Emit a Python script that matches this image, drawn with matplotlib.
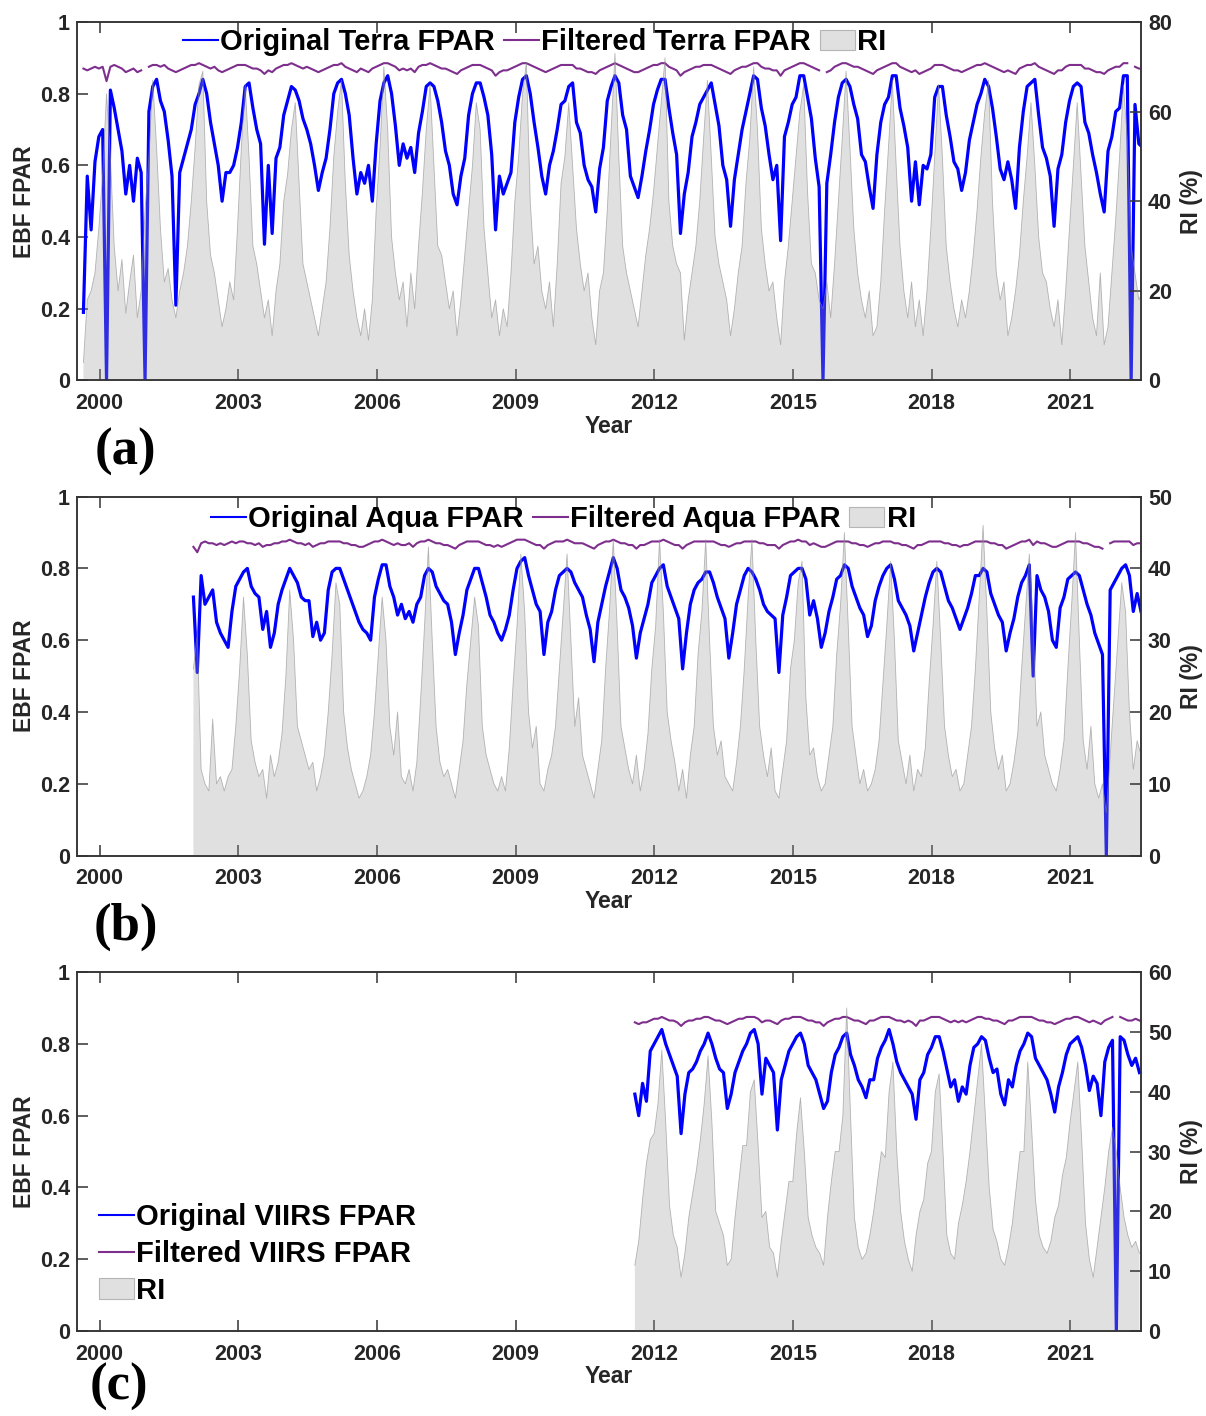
import numpy as np
import matplotlib
matplotlib.use('Agg')
import matplotlib.pyplot as plt
from matplotlib.patches import Patch
from matplotlib.lines import Line2D
from matplotlib.ticker import FuncFormatter

plt.rcParams['font.family'] = ['Liberation Sans', 'DejaVu Sans']
plt.rcParams['font.weight'] = 'bold'

nan = np.nan

# ---------------- data (monthly values) ----------------
x_ticks = [2000, 2003, 2006, 2009, 2012, 2015, 2018, 2021]

# Terra, first value at 1999.65, one value per month
terra_start = 1999.65
terra_fpar = [
    0.19, 0.57, 0.42, 0.61, 0.68,
    0.70, 0.00, 0.81, 0.76, 0.70, 0.64, 0.52, 0.60, 0.50, 0.62, 0.58, 0.00,
    0.75, 0.82, 0.84, 0.78, 0.75, 0.67, 0.57, 0.21, 0.58, 0.62, 0.66, 0.70,
    0.77, 0.80, 0.84, 0.80, 0.72, 0.66, 0.60, 0.50, 0.58, 0.58, 0.60, 0.65,
    0.72, 0.82, 0.83, 0.76, 0.70, 0.66, 0.38, 0.60, 0.41, 0.62, 0.65, 0.74,
    0.78, 0.82, 0.81, 0.78, 0.73, 0.70, 0.66, 0.60, 0.53, 0.58, 0.62, 0.70,
    0.80, 0.83, 0.84, 0.80, 0.74, 0.62, 0.52, 0.58, 0.55, 0.60, 0.50, 0.66,
    0.78, 0.83, 0.85, 0.80, 0.71, 0.60, 0.66, 0.62, 0.65, 0.58, 0.69, 0.75,
    0.82, 0.83, 0.82, 0.78, 0.72, 0.64, 0.60, 0.52, 0.49, 0.57, 0.62, 0.74,
    0.80, 0.83, 0.83, 0.79, 0.74, 0.63, 0.42, 0.57, 0.52, 0.55, 0.58, 0.72,
    0.79, 0.84, 0.85, 0.80, 0.72, 0.65, 0.57, 0.52, 0.60, 0.64, 0.70, 0.77,
    0.78, 0.82, 0.83, 0.72, 0.69, 0.60, 0.56, 0.54, 0.47, 0.59, 0.65, 0.78,
    0.82, 0.85, 0.83, 0.74, 0.70, 0.57, 0.54, 0.51, 0.57, 0.64, 0.70, 0.77,
    0.81, 0.84, 0.84, 0.76, 0.69, 0.63, 0.41, 0.52, 0.58, 0.68, 0.72, 0.77,
    0.79, 0.81, 0.83, 0.77, 0.71, 0.60, 0.56, 0.43, 0.56, 0.63, 0.70, 0.75,
    0.80, 0.85, 0.84, 0.76, 0.71, 0.63, 0.56, 0.60, 0.39, 0.68, 0.72, 0.77,
    0.79, 0.85, 0.85, 0.79, 0.73, 0.62, 0.54, 0.00, 0.55, 0.63, 0.72, 0.79,
    0.83, 0.84, 0.82, 0.77, 0.73, 0.63, 0.61, 0.54, 0.48, 0.63, 0.72, 0.77,
    0.79, 0.85, 0.85, 0.76, 0.71, 0.65, 0.50, 0.61, 0.49, 0.60, 0.59, 0.63,
    0.79, 0.82, 0.82, 0.74, 0.68, 0.61, 0.59, 0.53, 0.58, 0.67, 0.72, 0.77,
    0.80, 0.84, 0.82, 0.76, 0.68, 0.59, 0.56, 0.61, 0.56, 0.48, 0.65, 0.75,
    0.82, 0.83, 0.84, 0.74, 0.65, 0.62, 0.57, 0.43, 0.59, 0.63, 0.72, 0.78,
    0.82, 0.83, 0.82, 0.72, 0.69, 0.63, 0.58, 0.52, 0.47, 0.64, 0.68, 0.75,
    0.76, 0.85, 0.85, 0.00, 0.77, 0.66, 0.65,
]
terra_filt = [
    0.870, 0.865, 0.870, 0.875, 0.870,
    0.875, 0.835, 0.875, 0.880, 0.875, 0.870, 0.860, 0.865, 0.870, 0.860, 0.865, nan,
    0.875, 0.880, 0.880, 0.875, 0.880, 0.870, 0.865, 0.860, 0.865, 0.870, 0.875, 0.880,
    0.880, 0.885, 0.880, 0.875, 0.870, 0.875, 0.865, 0.860, 0.865, 0.870, 0.875, 0.880,
    0.880, 0.880, 0.875, 0.870, 0.870, 0.865, 0.855, 0.865, 0.860, 0.870, 0.875, 0.880,
    0.880, 0.885, 0.880, 0.875, 0.870, 0.875, 0.870, 0.865, 0.860, 0.865, 0.870, 0.875,
    0.880, 0.880, 0.885, 0.875, 0.870, 0.865, 0.860, 0.870, 0.865, 0.860, 0.870, 0.875,
    0.880, 0.885, 0.885, 0.880, 0.875, 0.865, 0.870, 0.865, 0.870, 0.860, 0.875, 0.880,
    0.880, 0.885, 0.880, 0.875, 0.870, 0.870, 0.865, 0.860, 0.855, 0.865, 0.870, 0.875,
    0.880, 0.880, 0.880, 0.875, 0.870, 0.865, 0.850, 0.860, 0.865, 0.865, 0.870, 0.875,
    0.880, 0.885, 0.885, 0.880, 0.875, 0.870, 0.865, 0.860, 0.865, 0.870, 0.875, 0.880,
    0.880, 0.880, 0.880, 0.870, 0.870, 0.865, 0.860, 0.860, 0.855, 0.865, 0.870, 0.875,
    0.880, 0.885, 0.880, 0.875, 0.870, 0.865, 0.860, 0.860, 0.865, 0.870, 0.875, 0.880,
    0.880, 0.885, 0.885, 0.875, 0.870, 0.865, 0.850, 0.860, 0.865, 0.870, 0.875, 0.875,
    0.880, 0.880, 0.880, 0.875, 0.870, 0.865, 0.860, 0.855, 0.865, 0.870, 0.875, 0.875,
    0.880, 0.885, 0.885, 0.875, 0.870, 0.870, 0.865, 0.865, 0.850, 0.865, 0.870, 0.875,
    0.880, 0.885, 0.885, 0.880, 0.875, 0.870, 0.865, nan, 0.860, 0.865, 0.875, 0.880,
    0.885, 0.885, 0.880, 0.875, 0.875, 0.870, 0.865, 0.860, 0.855, 0.865, 0.870, 0.875,
    0.880, 0.885, 0.885, 0.875, 0.870, 0.865, 0.860, 0.865, 0.855, 0.860, 0.865, 0.870,
    0.880, 0.880, 0.880, 0.875, 0.870, 0.865, 0.865, 0.860, 0.865, 0.870, 0.875, 0.880,
    0.880, 0.885, 0.880, 0.875, 0.870, 0.865, 0.860, 0.865, 0.860, 0.855, 0.870, 0.875,
    0.880, 0.880, 0.885, 0.875, 0.870, 0.865, 0.860, 0.855, 0.865, 0.865, 0.875, 0.880,
    0.880, 0.880, 0.880, 0.870, 0.870, 0.865, 0.860, 0.860, 0.855, 0.865, 0.870, 0.875,
    0.875, 0.885, 0.885, nan, 0.875, 0.870, 0.870,
]
terra_ri = [
    4, 18, 20, 24, 34,
    46, 64, 50, 30, 20, 27, 15, 22, 28, 14, 20, 38,
    50, 67, 52, 34, 22, 25, 18, 14, 20, 24, 30, 40,
    52, 66, 69, 40, 28, 24, 18, 12, 16, 22, 18, 34,
    52, 66, 50, 30, 26, 20, 14, 18, 10, 20, 26, 40,
    46, 56, 62, 44, 26, 22, 18, 14, 10, 16, 22, 34,
    50, 60, 67, 44, 28, 20, 14, 10, 16, 9, 18, 38,
    52, 70, 56, 32, 24, 18, 22, 12, 24, 16, 30, 42,
    56, 66, 48, 30, 28, 22, 16, 20, 10, 18, 28, 38,
    48, 62, 56, 34, 24, 14, 18, 10, 16, 12, 24, 40,
    50, 64, 71, 40, 26, 30, 20, 16, 22, 12, 26, 44,
    50, 62, 48, 34, 26, 20, 24, 14, 8, 20, 24, 38,
    56, 73, 50, 30, 24, 20, 16, 12, 20, 28, 34, 42,
    52, 62, 72, 40, 30, 26, 24, 9, 18, 24, 30, 40,
    54, 67, 50, 32, 26, 22, 18, 10, 16, 24, 30, 44,
    54, 70, 56, 34, 26, 20, 22, 14, 8, 22, 30, 40,
    50, 60, 66, 42, 26, 24, 18, 16, 22, 14, 26, 40,
    54, 69, 52, 34, 24, 18, 14, 20, 10, 12, 22, 38,
    52, 67, 48, 30, 20, 14, 22, 12, 18, 10, 20, 34,
    50, 66, 50, 30, 22, 16, 12, 18, 14, 20, 28, 38,
    50, 60, 67, 40, 24, 18, 22, 10, 14, 20, 28, 40,
    50, 62, 48, 32, 24, 22, 16, 12, 18, 8, 20, 34,
    48, 62, 46, 30, 22, 14, 10, 24, 8, 12, 24, 36,
    50, 66, 54, 30, 24, 18, 20,
]

# Aqua, first value at 2002.03
aqua_start = 2002.03
aqua_fpar = [
    0.72, 0.51, 0.78, 0.70, 0.72, 0.74, 0.65, 0.62, 0.60, 0.58, 0.68, 0.75,
    0.77, 0.79, 0.80, 0.75, 0.73, 0.72, 0.63, 0.68, 0.58, 0.62, 0.70, 0.74,
    0.77, 0.80, 0.78, 0.76, 0.72, 0.71, 0.71, 0.61, 0.65, 0.60, 0.62, 0.74,
    0.79, 0.80, 0.80, 0.77, 0.74, 0.71, 0.68, 0.65, 0.63, 0.62, 0.60, 0.72,
    0.77, 0.81, 0.81, 0.75, 0.72, 0.67, 0.70, 0.66, 0.68, 0.65, 0.70, 0.72,
    0.78, 0.80, 0.79, 0.75, 0.73, 0.71, 0.70, 0.65, 0.56, 0.62, 0.67, 0.74,
    0.77, 0.80, 0.80, 0.76, 0.72, 0.67, 0.65, 0.62, 0.60, 0.63, 0.67, 0.74,
    0.80, 0.82, 0.83, 0.78, 0.74, 0.70, 0.68, 0.56, 0.65, 0.68, 0.74, 0.78,
    0.79, 0.80, 0.79, 0.76, 0.74, 0.72, 0.67, 0.63, 0.54, 0.65, 0.70, 0.75,
    0.79, 0.83, 0.80, 0.74, 0.72, 0.69, 0.64, 0.55, 0.62, 0.66, 0.70, 0.76,
    0.78, 0.80, 0.81, 0.75, 0.72, 0.69, 0.66, 0.52, 0.62, 0.70, 0.74, 0.76,
    0.77, 0.79, 0.79, 0.76, 0.72, 0.69, 0.66, 0.55, 0.62, 0.70, 0.74, 0.78,
    0.80, 0.79, 0.77, 0.74, 0.70, 0.68, 0.67, 0.66, 0.51, 0.67, 0.72, 0.78,
    0.79, 0.80, 0.80, 0.77, 0.67, 0.71, 0.66, 0.58, 0.62, 0.68, 0.72, 0.77,
    0.78, 0.81, 0.80, 0.75, 0.72, 0.69, 0.67, 0.61, 0.64, 0.71, 0.75, 0.78,
    0.80, 0.81, 0.77, 0.71, 0.69, 0.67, 0.64, 0.57, 0.62, 0.67, 0.72, 0.76,
    0.79, 0.80, 0.79, 0.75, 0.71, 0.69, 0.66, 0.63, 0.66, 0.69, 0.73, 0.78,
    0.78, 0.80, 0.79, 0.73, 0.70, 0.67, 0.65, 0.57, 0.62, 0.66, 0.72, 0.76,
    0.78, 0.81, 0.50, 0.78, 0.74, 0.72, 0.68, 0.60, 0.58, 0.69, 0.72, 0.77,
    0.78, 0.79, 0.78, 0.74, 0.70, 0.67, 0.62, 0.59, 0.56, 0.00, 0.74, 0.76,
    0.78, 0.80, 0.81, 0.78, 0.68, 0.73, 0.68,
]
aqua_filt = [
    0.860, 0.845, 0.870, 0.875, 0.870, 0.870, 0.865, 0.870, 0.865, 0.870, 0.875, 0.870,
    0.875, 0.875, 0.870, 0.870, 0.865, 0.870, 0.860, 0.865, 0.865, 0.870, 0.870, 0.875,
    0.875, 0.880, 0.875, 0.870, 0.870, 0.865, 0.870, 0.860, 0.865, 0.870, 0.870, 0.875,
    0.875, 0.875, 0.875, 0.870, 0.870, 0.865, 0.865, 0.860, 0.860, 0.865, 0.870, 0.875,
    0.875, 0.880, 0.875, 0.870, 0.865, 0.870, 0.865, 0.865, 0.870, 0.860, 0.870, 0.875,
    0.875, 0.880, 0.875, 0.870, 0.870, 0.865, 0.865, 0.860, 0.855, 0.865, 0.870, 0.875,
    0.875, 0.875, 0.875, 0.870, 0.865, 0.865, 0.860, 0.865, 0.860, 0.865, 0.870, 0.875,
    0.880, 0.880, 0.880, 0.875, 0.870, 0.865, 0.865, 0.855, 0.865, 0.870, 0.875, 0.875,
    0.875, 0.880, 0.875, 0.870, 0.870, 0.870, 0.865, 0.860, 0.855, 0.865, 0.870, 0.875,
    0.875, 0.880, 0.875, 0.870, 0.870, 0.865, 0.865, 0.855, 0.865, 0.865, 0.870, 0.875,
    0.875, 0.875, 0.880, 0.875, 0.870, 0.865, 0.865, 0.855, 0.865, 0.870, 0.875, 0.875,
    0.875, 0.875, 0.875, 0.875, 0.870, 0.865, 0.865, 0.860, 0.865, 0.870, 0.870, 0.875,
    0.875, 0.875, 0.875, 0.870, 0.870, 0.865, 0.865, 0.865, 0.855, 0.865, 0.870, 0.875,
    0.875, 0.880, 0.875, 0.875, 0.865, 0.870, 0.865, 0.860, 0.860, 0.865, 0.870, 0.875,
    0.875, 0.875, 0.875, 0.870, 0.870, 0.865, 0.865, 0.860, 0.865, 0.870, 0.870, 0.875,
    0.875, 0.875, 0.870, 0.870, 0.865, 0.865, 0.860, 0.855, 0.865, 0.865, 0.870, 0.875,
    0.875, 0.875, 0.875, 0.870, 0.870, 0.865, 0.865, 0.860, 0.865, 0.865, 0.870, 0.875,
    0.875, 0.875, 0.875, 0.870, 0.870, 0.865, 0.865, 0.855, 0.860, 0.865, 0.870, 0.875,
    0.875, 0.880, 0.865, 0.875, 0.870, 0.870, 0.865, 0.860, 0.860, 0.865, 0.870, 0.875,
    0.875, 0.875, 0.875, 0.870, 0.870, 0.865, 0.860, 0.860, 0.855, nan, 0.870, 0.875,
    0.875, 0.875, 0.875, 0.875, 0.865, 0.870, 0.870,
]
aqua_ri = [
    26, 31, 12, 10, 9, 19, 10, 11, 9, 11, 12, 18,
    26, 36, 28, 16, 13, 11, 12, 8, 14, 11, 13, 17,
    25, 37, 30, 18, 16, 14, 12, 13, 9, 11, 14, 20,
    28, 38, 35, 20, 15, 12, 10, 8, 9, 11, 14, 20,
    28, 36, 30, 18, 14, 20, 11, 10, 12, 9, 13, 22,
    32, 43, 30, 18, 13, 11, 12, 10, 8, 12, 16, 24,
    30, 36, 32, 18, 14, 12, 10, 9, 11, 9, 15, 24,
    32, 42, 34, 20, 15, 18, 10, 9, 12, 14, 18, 26,
    34, 42, 30, 18, 22, 14, 12, 10, 8, 12, 16, 26,
    34, 44, 32, 18, 15, 12, 10, 14, 9, 12, 17, 26,
    32, 44, 34, 20, 16, 13, 9, 12, 8, 14, 18, 28,
    34, 44, 30, 18, 14, 16, 11, 10, 9, 13, 18, 26,
    36, 44, 30, 18, 14, 11, 15, 9, 8, 12, 16, 26,
    30, 38, 41, 22, 14, 15, 11, 9, 10, 14, 18, 28,
    35, 45, 32, 18, 14, 10, 12, 9, 10, 12, 16, 24,
    32, 41, 30, 16, 13, 10, 14, 9, 12, 11, 15, 24,
    32, 41, 30, 18, 14, 11, 12, 9, 10, 14, 18, 26,
    36, 46, 34, 20, 15, 12, 14, 9, 10, 13, 17, 26,
    34, 42, 32, 18, 20, 14, 12, 10, 9, 12, 16, 26,
    35, 45, 30, 16, 12, 18, 10, 8, 10, 6, 14, 22,
    30, 38, 34, 20, 12, 16, 14,
]

# VIIRS, first value at 2011.58
viirs_start = 2011.58
viirs_fpar = [
    0.66, 0.60, 0.69, 0.64, 0.78,
    0.80, 0.82, 0.84, 0.80, 0.77, 0.74, 0.71, 0.55, 0.66, 0.72, 0.73, 0.75,
    0.78, 0.80, 0.83, 0.80, 0.76, 0.73, 0.72, 0.62, 0.66, 0.72, 0.75, 0.78,
    0.80, 0.83, 0.84, 0.80, 0.66, 0.76, 0.74, 0.72, 0.56, 0.70, 0.74, 0.78,
    0.80, 0.82, 0.83, 0.80, 0.74, 0.72, 0.70, 0.66, 0.62, 0.64, 0.72, 0.77,
    0.79, 0.82, 0.83, 0.77, 0.74, 0.70, 0.68, 0.65, 0.70, 0.70, 0.76, 0.79,
    0.81, 0.84, 0.80, 0.75, 0.72, 0.70, 0.68, 0.66, 0.59, 0.70, 0.72, 0.77,
    0.79, 0.82, 0.82, 0.78, 0.73, 0.68, 0.70, 0.64, 0.68, 0.66, 0.74, 0.79,
    0.80, 0.82, 0.81, 0.76, 0.72, 0.73, 0.66, 0.63, 0.70, 0.68, 0.74, 0.78,
    0.80, 0.83, 0.82, 0.76, 0.74, 0.72, 0.70, 0.66, 0.61, 0.68, 0.72, 0.77,
    0.80, 0.81, 0.82, 0.79, 0.74, 0.67, 0.71, 0.69, 0.60, 0.75, 0.79, 0.81,
    0.00, 0.82, 0.81, 0.77, 0.74, 0.76, 0.72,
]
viirs_filt = [
    0.860, 0.855, 0.860, 0.860, 0.865,
    0.870, 0.870, 0.875, 0.870, 0.865, 0.865, 0.860, 0.850, 0.860, 0.865, 0.865, 0.870,
    0.870, 0.875, 0.875, 0.870, 0.865, 0.865, 0.860, 0.855, 0.860, 0.865, 0.870, 0.870,
    0.875, 0.875, 0.875, 0.870, 0.860, 0.865, 0.865, 0.860, 0.855, 0.865, 0.870, 0.870,
    0.875, 0.875, 0.875, 0.870, 0.865, 0.865, 0.860, 0.860, 0.850, 0.860, 0.865, 0.870,
    0.870, 0.875, 0.875, 0.870, 0.865, 0.865, 0.860, 0.855, 0.865, 0.865, 0.870, 0.875,
    0.875, 0.875, 0.870, 0.865, 0.865, 0.860, 0.865, 0.860, 0.850, 0.865, 0.865, 0.870,
    0.875, 0.875, 0.875, 0.870, 0.865, 0.860, 0.865, 0.860, 0.865, 0.860, 0.865, 0.870,
    0.875, 0.875, 0.870, 0.870, 0.865, 0.865, 0.860, 0.855, 0.865, 0.865, 0.870, 0.875,
    0.875, 0.875, 0.875, 0.870, 0.865, 0.865, 0.860, 0.860, 0.855, 0.860, 0.865, 0.870,
    0.870, 0.875, 0.875, 0.870, 0.865, 0.860, 0.865, 0.860, 0.855, 0.865, 0.870, 0.875,
    nan, 0.875, 0.870, 0.865, 0.865, 0.870, 0.865,
]
viirs_ri = [
    11, 15, 22, 28, 32,
    33, 38, 47, 35, 21, 16, 14, 9, 13, 19, 23, 27,
    32, 38, 46, 35, 20, 18, 16, 11, 12, 19, 25, 31,
    31, 40, 42, 31, 19, 20, 14, 13, 9, 15, 20, 25,
    25, 33, 39, 30, 19, 16, 14, 13, 11, 19, 25, 30,
    30, 36, 54, 36, 19, 14, 12, 13, 16, 20, 25, 30,
    29, 40, 45, 30, 20, 15, 12, 10, 16, 20, 22, 28,
    30, 40, 43, 30, 16, 13, 12, 18, 21, 25, 30, 36,
    42, 48, 36, 24, 17, 15, 12, 11, 14, 18, 24, 30,
    30, 45, 34, 22, 16, 14, 13, 15, 19, 21, 26, 29,
    35, 40, 45, 32, 18, 12, 9, 14, 19, 24, 30, 34,
    30, 24, 19, 16, 14, 15, 13,
]

# ---------------- figure ----------------
blue = '#0000ff'
purple = '#7e2f8e'
ink = '#262626'

fig = plt.figure(figsize=(12.06, 14.16), dpi=100)

panels = [
    # start, fpar, filtered, ri, ri max, ri step, sat name, axes box, label pos
    (terra_start, terra_fpar, terra_filt, terra_ri, 80, 20, 'Terra',
     [0.0638, 0.7313, 0.8823, 0.2532], (0.1037, 0.6808)),
    (aqua_start, aqua_fpar, aqua_filt, aqua_ri, 50, 10, 'Aqua',
     [0.0638, 0.3958, 0.8823, 0.2535], (0.1045, 0.3453)),
    (viirs_start, viirs_fpar, viirs_filt, viirs_ri, 60, 10, 'VIIRS',
     [0.0638, 0.0600, 0.8823, 0.2535], (0.0987, 0.0205)),
]

for k, (start, fpar, filt, ri, ri_max, ri_step, sat, box, lab) in enumerate(panels):
    ax = fig.add_axes(box)
    t = start + np.arange(len(fpar)) / 12.0
    tr = start + np.arange(len(ri)) / 12.0
    ax.plot(t, fpar, color=blue, lw=2.3, zorder=3)
    ax.plot(t, filt, color=purple, lw=1.5, zorder=4)
    ax.set_xlim(1999.51, 2022.53)
    ax.set_ylim(0, 1)
    ax.set_xticks(x_ticks)
    ax.set_yticks([0, 0.2, 0.4, 0.6, 0.8, 1.0])
    ax.yaxis.set_major_formatter(FuncFormatter(lambda v, p: '%g' % v))

    ax2 = ax.twinx()
    ax2.fill_between(tr, 0, ri, facecolor='#999999', alpha=0.3, lw=0)
    ax2.plot(tr, ri, color='#8a8a8a', lw=0.6, alpha=0.6)
    ax2.set_ylim(0, ri_max)
    ax2.set_yticks(np.arange(0, ri_max + 1, ri_step))

    for a in (ax, ax2):
        for s in a.spines.values():
            s.set_color('#333333')
            s.set_linewidth(1.1)
    ax.tick_params(axis='x', direction='in', top=True, length=8, width=1.1,
                   color='#333333', labelsize=15.5, labelcolor=ink, pad=9)
    ax.tick_params(axis='y', direction='in', length=8, width=1.1,
                   color='#333333', labelsize=15.5, labelcolor=ink, pad=5)
    ax2.tick_params(axis='y', direction='in', length=8, width=1.1,
                    color='#333333', labelsize=15.5, labelcolor=ink, pad=5)

    ax.set_xlabel('Year', fontsize=16.5, fontweight='bold', color=ink)
    ax.xaxis.set_label_coords(0.5, -0.095)
    ax.set_ylabel('EBF FPAR', fontsize=16.5, fontweight='bold', color=ink)
    ax.yaxis.set_label_coords(-0.0385, 0.5)
    ax2.set_ylabel('RI (%)', fontsize=16.5, fontweight='bold', color=ink)
    ax2.yaxis.set_label_coords(1.037, 0.5)

    handles = [
        Line2D([], [], color=blue, lw=1.5),
        Line2D([], [], color=purple, lw=1.5),
        Patch(facecolor='#e0e0e0', edgecolor='#b5b5b5', lw=0.8),
    ]
    labels = ['Original %s FPAR' % sat, 'Filtered %s FPAR' % sat, 'RI']
    prop = {'size': 21, 'weight': 'bold'}
    if k == 0:
        ax2.legend(handles, labels, loc='center left', bbox_to_anchor=(0.0996, 0.944),
                   ncol=3, frameon=False, prop=prop, borderpad=0, borderaxespad=0,
                   handlelength=1.2, handletextpad=0.08, columnspacing=0.3)
    elif k == 1:
        ax2.legend(handles, labels, loc='center left', bbox_to_anchor=(0.126, 0.937),
                   ncol=3, frameon=False, prop=prop, borderpad=0, borderaxespad=0,
                   handlelength=1.2, handletextpad=0.08, columnspacing=0.3)
    else:
        ax2.legend(handles, labels, loc='center left', bbox_to_anchor=(0.0207, 0.2145),
                   ncol=1, frameon=False, prop=prop, borderpad=0, borderaxespad=0,
                   handlelength=1.2, handletextpad=0.08, labelspacing=0.3)

    fig.text(lab[0], lab[1], '(%s)' % 'abc'[k], ha='center', va='center',
             fontsize=38, fontweight='bold', family=['Liberation Serif', 'DejaVu Serif'])

fig.savefig('out.png', dpi=100)
